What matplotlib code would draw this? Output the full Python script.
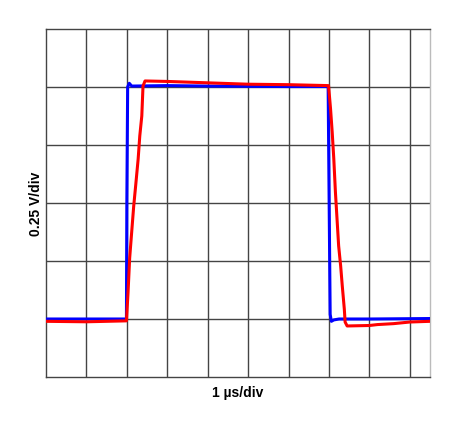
import matplotlib.pyplot as plt

# time in us, voltage in V
blue_t = [-2.0, -0.01, 0.0, 0.02, 0.06, 0.12, 1.0, 2.0, 3.0, 4.0, 4.98, 5.0, 5.03, 5.06, 5.12, 5.25, 6.0, 7.5]
blue_v = [0.0, 0.0, 0.5, 1.0, 1.016, 1.004, 1.006, 1.004, 1.003, 1.002, 1.002, 0.6, 0.02, -0.01, -0.004, 0.0, 0.0, 0.002]

red_t = [-2.0, -1.0, -0.01, 0.03, 0.07, 0.12, 0.17, 0.22, 0.28, 0.32, 0.37, 0.40, 0.45, 1.0, 2.0,
         3.0, 4.0, 4.99, 5.04, 5.08, 5.12, 5.16, 5.20, 5.24, 5.29, 5.33, 5.38, 5.40, 5.45, 6.0,
         6.2, 6.6, 7.0, 7.5]
red_v = [-0.01, -0.012, -0.008, 0.116, 0.263, 0.375, 0.487, 0.578, 0.69, 0.789, 0.875, 1.004, 1.026, 1.024, 1.018,
         1.012, 1.01, 1.006, 0.905, 0.806, 0.69, 0.547, 0.431, 0.315, 0.228, 0.142, 0.043, -0.013, -0.03, -0.028,
         -0.024, -0.02, -0.013, -0.01]

fig = plt.figure(figsize=(4.5, 4.27), dpi=100)
ax = fig.add_axes([46/450, 1 - 378/427, 384/450, 348/427])

ax.plot(blue_t, blue_v, color='#0000ff', linewidth=2.2, zorder=3)
ax.plot(red_t, red_v, color='#ff0000', linewidth=2.2, zorder=4)

ax.set_xlim(-2, 7.5)
ax.set_ylim(-0.25, 1.25)
ax.set_xticks([-1, 0, 1, 2, 3, 4, 5, 6, 7])
ax.set_yticks([0, 0.25, 0.5, 0.75, 1.0])
ax.tick_params(length=0, labelbottom=False, labelleft=False)
ax.grid(True, color='#444444', linewidth=1)
ax.set_axisbelow(True)
for s in ax.spines.values():
    s.set_color('#444444')
    s.set_linewidth(1)
ax.spines['right'].set_color('#bbbbbb')

ax.set_xlabel('1 µs/div', fontsize=10, fontweight='bold', family='Liberation Sans', labelpad=6)
ax.set_ylabel('0.25 V/div', fontsize=10, fontweight='bold', family='Liberation Sans', labelpad=2)

fig.savefig('out.png', dpi=100, facecolor='white')
